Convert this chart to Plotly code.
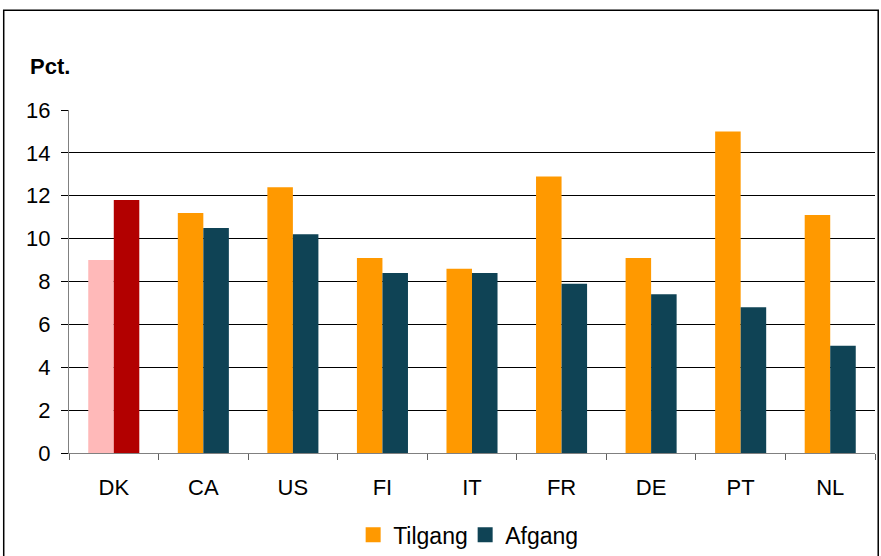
"""Tilgang og afgang, landesammenligning."""

import plotly.graph_objects as go

countries = ["DK", "CA", "US", "FI", "IT", "FR", "DE", "PT", "NL"]
tilgang = [9.0, 11.2, 12.4, 9.1, 8.6, 12.9, 9.1, 15.0, 11.1]
afgang = [11.8, 10.5, 10.2, 8.4, 8.4, 7.9, 7.4, 6.8, 5.0]
y_ticks = [0, 2, 4, 6, 8, 10, 12, 14, 16]

ORANGE = "#FF9900"
TEAL = "#0F4355"
# DK is highlighted in its own colours
til_colors = ["#FFB9B9"] + [ORANGE] * (len(countries) - 1)
af_colors = ["#B20000"] + [TEAL] * (len(countries) - 1)

fig = go.Figure()

fig.add_trace(go.Bar(
    x=countries, y=tilgang, name="Tilgang", showlegend=False,
    marker=dict(color=til_colors, line=dict(width=0)),
))
fig.add_trace(go.Bar(
    x=countries, y=afgang, name="Afgang", showlegend=False,
    marker=dict(color=af_colors, line=dict(width=0)),
))

# legend entries with the plain series colours
for name, col in [("Tilgang", ORANGE), ("Afgang", TEAL)]:
    fig.add_trace(go.Scatter(
        x=[None], y=[None], mode="markers", name=name,
        marker=dict(symbol="square", size=15, color=col),
    ))

fig.update_layout(
    width=881,
    height=556,
    barmode="group",
    bargap=0.43,
    bargroupgap=0,
    plot_bgcolor="white",
    paper_bgcolor="white",
    font=dict(family="Liberation Sans, Arial", size=22, color="black"),
    margin=dict(l=69, r=6, t=110, b=103),
    showlegend=True,
    legend=dict(orientation="h", x=0.4915, xanchor="center",
                yref="container", y=0.038, yanchor="middle",
                font=dict(size=23), itemwidth=30, traceorder="normal",
                entrywidth=67, entrywidthmode="pixels"),
    xaxis=dict(
        showline=True, linecolor="#808080", linewidth=1,
        ticks="outside", tickcolor="#606060", ticklen=6,
        tickson="boundaries", showgrid=False, ticklabelstandoff=15,
    ),
    yaxis=dict(
        range=[0, 16], tickvals=y_ticks,
        showgrid=True, gridcolor="black", gridwidth=1,
        showline=True, linecolor="#808080", linewidth=1,
        ticks="outside", tickcolor="black", ticklen=7,
        zeroline=False, ticklabelstandoff=6,
    ),
    annotations=[dict(
        text="<b>Pct.</b>", xref="paper", yref="paper", x=-0.051, y=1.127,
        xanchor="left", yanchor="middle", showarrow=False, font=dict(size=22),
    )],
    shapes=[dict(
        type="rect", xref="paper", yref="paper",
        x0=-0.081, x1=1.004, y0=-0.5, y1=1.291,
        line=dict(color="black", width=1.5),
    )],
)

fig.write_html(
    "out.html",
    config={"displayModeBar": False},
    post_script="document.body.style.margin='0px';",
)
